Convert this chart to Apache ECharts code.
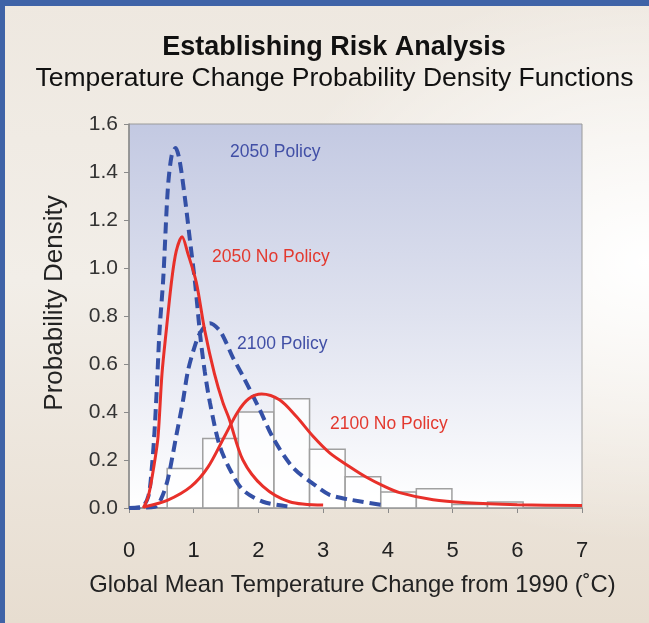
<!DOCTYPE html>
<html><head><meta charset="utf-8">
<script src="https://cdn.jsdelivr.net/npm/echarts@6/dist/echarts.min.js"></script>
<style>
html,body{margin:0;padding:0;width:649px;height:623px;overflow:hidden;}
body{background:radial-gradient(ellipse 60% 45% at 100% 42%, #ffffff 0%, rgba(255,255,255,0) 100%), linear-gradient(#eee8e0, #f2eee8 45%, #e7ddd0);}
#frame{position:absolute;left:0;top:0;width:649px;height:623px;border-left:5px solid #3f63a7;border-top:6px solid #3f63a7;box-sizing:border-box;}
#c{position:absolute;left:0;top:0;width:649px;height:623px;}
</style></head>
<body><div id="frame"></div><div id="c"></div>
<script>
// Histogram bins
const binStart  = [0.59, 1.14, 1.69, 2.24, 2.79, 3.34, 3.89, 4.44, 4.99, 5.54];
const binEnd    = [1.14, 1.69, 2.24, 2.79, 3.34, 3.89, 4.44, 4.99, 5.54, 6.09];
const binHeight = [0.165, 0.29, 0.40, 0.455, 0.245, 0.13, 0.067, 0.08, 0.015, 0.025];

// 2050 Policy (blue dashed)
const p2050x = [0, 0.2, 0.3, 0.35, 0.39, 0.43, 0.47, 0.53, 0.6, 0.66, 0.72, 0.78, 0.86, 0.94, 1.02, 1.1, 1.17, 1.25, 1.4, 1.58, 1.76, 2.07, 2.5];
const p2050y = [0, 0.005, 0.05, 0.16, 0.30, 0.50, 0.73, 0.96, 1.33, 1.47, 1.50, 1.45, 1.30, 1.12, 0.94, 0.72, 0.57, 0.44, 0.26, 0.15, 0.075, 0.026, 0.005];

// 2050 No Policy (red solid)
const n2050x = [0.22, 0.3, 0.4, 0.45, 0.51, 0.58, 0.66, 0.73, 0.82, 0.91, 1.04, 1.17, 1.32, 1.45, 1.55, 1.76, 2.07, 2.48, 3.0];
const n2050y = [0, 0.05, 0.2, 0.30, 0.56, 0.75, 0.95, 1.07, 1.13, 1.06, 0.94, 0.74, 0.56, 0.44, 0.37, 0.20, 0.09, 0.026, 0.012];

// 2100 Policy (blue dashed)
const p2100x = [0, 0.4, 0.5, 0.6, 0.73, 0.83, 0.91, 1.0, 1.1, 1.25, 1.4, 1.5, 1.6, 1.76, 2.02, 2.23, 2.53, 2.9, 3.1, 3.41, 3.93];
const p2100y = [0, 0.005, 0.04, 0.12, 0.30, 0.44, 0.57, 0.66, 0.73, 0.77, 0.74, 0.69, 0.63, 0.55, 0.41, 0.29, 0.17, 0.09, 0.055, 0.035, 0.012];

// 2100 No Policy (red solid)
const n2100x = [0.24, 0.6, 0.96, 1.22, 1.48, 1.68, 1.85, 2.05, 2.33, 2.59, 2.84, 3.1, 3.41, 3.67, 3.93, 4.18, 4.7, 5.21, 6.0, 7.0];
const n2100y = [0.005, 0.033, 0.09, 0.17, 0.30, 0.40, 0.455, 0.475, 0.45, 0.38, 0.30, 0.23, 0.172, 0.128, 0.092, 0.064, 0.034, 0.022, 0.014, 0.01];

const yTicks = ['0.0','0.2','0.4','0.6','0.8','1.0','1.2','1.4','1.6'];
const xTicks = ['0','1','2','3','4','5','6','7'];

const pairs = (xs, ys) => xs.map((x, i) => [x, ys[i]]);
const bins = binStart.map((s, i) => [s, binEnd[i], binHeight[i]]);

const FONT = '"Liberation Sans", Arial, sans-serif';
const BLUE = '#3450a6', RED = '#e8302a';

const chart = echarts.init(document.getElementById('c'), null, {renderer: 'canvas'});
chart.setOption({
  backgroundColor: 'transparent',
  animation: false,
  grid: {left: 129, right: 67, top: 124, bottom: 115, show: true,
    borderColor: '#9a9a9a', borderWidth: 1,
    backgroundColor: new echarts.graphic.LinearGradient(0, 0, 0, 1, [
      {offset: 0, color: '#c3c9e2'}, {offset: 0.5, color: '#dfe2ef'}, {offset: 1, color: '#ffffff'}])},
  xAxis: {type: 'value', min: 0, max: 7, interval: 1,
    name: 'Global Mean Temperature Change from 1990 (˚C)', nameLocation: 'middle', nameGap: 65,
    nameTextStyle: {fontFamily: FONT, fontSize: 23.8, color: '#222', padding: [0, 6, 0, 0]},
    axisLine: {show: true, lineStyle: {color: '#8a8a8a', width: 1.5}},
    axisTick: {show: true, inside: false, length: 5, lineStyle: {color: '#8a8a8a'}},
    splitLine: {show: false},
    axisLabel: {margin: 32, fontFamily: FONT, fontSize: 22, color: '#222',
      formatter: v => xTicks[Math.round(v)]}},
  yAxis: {type: 'value', min: 0, max: 1.6, interval: 0.2,
    axisLine: {show: true, lineStyle: {color: '#8a8a8a', width: 1.5}},
    axisTick: {show: true, inside: false, length: 5, lineStyle: {color: '#8a8a8a'}},
    splitLine: {show: false},
    axisLabel: {margin: 11, fontFamily: FONT, fontSize: 21, color: '#333',
      formatter: v => yTicks[Math.round(v / 0.2)]}},
  series: [
    {type: 'custom', data: bins, encode: {x: [0, 1], y: 2}, z: 1,
     renderItem: (params, api) => {
       const a = api.coord([api.value(0), api.value(2)]);
       const b = api.coord([api.value(1), 0]);
       return {type: 'rect', shape: {x: a[0], y: a[1], width: b[0] - a[0], height: b[1] - a[1]},
         style: {fill: 'rgba(255,255,255,0.75)', stroke: '#a0a0a0', lineWidth: 1.5}};
     }},
    {type: 'line', data: pairs(p2100x, p2100y), showSymbol: false, smooth: 0.3, z: 3,
     lineStyle: {color: BLUE, width: 4, type: [11, 6]}},
    {type: 'line', data: pairs(n2100x, n2100y), showSymbol: false, smooth: 0.3, z: 4,
     lineStyle: {color: RED, width: 3}},
    {type: 'line', data: pairs(p2050x, p2050y), showSymbol: false, smooth: 0.3, z: 3,
     lineStyle: {color: BLUE, width: 4, type: [11, 6]}},
    {type: 'line', data: pairs(n2050x, n2050y), showSymbol: false, smooth: 0.3, z: 4,
     lineStyle: {color: RED, width: 3}}
  ],
  graphic: [
    {type: 'text', x: 334, y: 48, z: 10, style: {text: 'Establishing Risk Analysis', fill: '#111',
      font: 'bold 27px ' + FONT, textAlign: 'center', textVerticalAlign: 'middle'}},
    {type: 'text', x: 334.5, y: 79, z: 10, style: {text: 'Temperature Change Probability Density Functions', fill: '#111',
      font: '26.5px ' + FONT, textAlign: 'center', textVerticalAlign: 'middle'}},
    {type: 'text', x: 55, y: 303, rotation: Math.PI / 2, z: 10, style: {text: 'Probability Density', fill: '#222',
      font: '26px ' + FONT, textAlign: 'center', textVerticalAlign: 'middle'}},
    {type: 'text', left: 230, top: 143, z: 10, style: {text: '2050 Policy', fill: '#414fa6', font: '17.5px ' + FONT}},
    {type: 'text', left: 212, top: 248, z: 10, style: {text: '2050 No Policy', fill: '#e3392f', font: '17.5px ' + FONT}},
    {type: 'text', left: 237, top: 335, z: 10, style: {text: '2100 Policy', fill: '#414fa6', font: '17.5px ' + FONT}},
    {type: 'text', left: 330, top: 415, z: 10, style: {text: '2100 No Policy', fill: '#e3392f', font: '17.5px ' + FONT}}
  ]
});
</script>
</body></html>
